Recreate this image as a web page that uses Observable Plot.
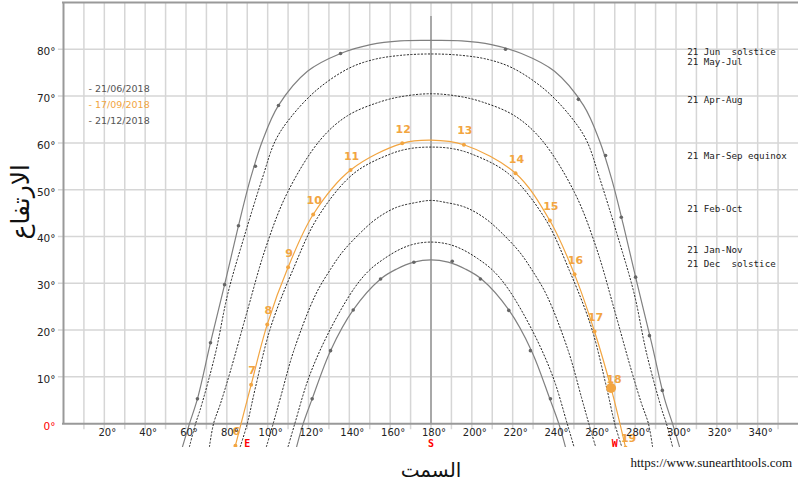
<!DOCTYPE html>
<html><head><meta charset="utf-8">
<script src="https://cdn.jsdelivr.net/npm/d3@7"></script>
<script src="https://cdn.jsdelivr.net/npm/@observablehq/plot@0.6"></script>
<style>body{margin:0;background:#fff} svg{display:block} svg text{white-space:pre}</style>
</head><body><div id="chart"></div>
<script>
// ---- data (azimuth°, altitude°) ----
const jun21 = [[58.3,-4.9],[61.7,0],[65.6,5.3],[72,17.3],[78.9,29.7],[85.7,42.3],[91.6,52.4],[97.5,60.5],[105.3,68],[119.5,75.3],[135.7,79.1],[150.4,81],[165,81.8],[180,81.9],[195,81.8],[209.6,81],[224.3,79.1],[240.5,75.3],[254.7,68],[262.5,60.5],[268.4,52.4],[274.3,42.3],[281.1,29.7],[288,17.3],[294.4,5.3],[298.3,0],[301.7,-4.9]];
const may21 = [[61.7,-4.9],[64.7,0],[67.1,3.2],[74.4,15],[80.5,27.8],[88.4,39.8],[97.5,52.6],[103.8,60.5],[111.2,65.4],[124,71.3],[139.6,75.9],[151.8,77.8],[165,78.7],[180,79],[195,78.7],[208.2,77.8],[220.4,75.9],[236,71.3],[248.8,65.4],[256.2,60.5],[262.5,52.6],[271.6,39.8],[279.5,27.8],[285.6,15],[292.9,3.2],[295.3,0],[298.3,-4.9]];
const apr21 = [[71.5,-4.9],[73.5,0],[76.9,4.3],[81.8,11.3],[90.1,24.2],[98.9,37.4],[109.7,49.4],[125.9,60.7],[139.1,65.8],[155.3,68.8],[167,70],[180,70.5],[193,70],[204.7,68.8],[220.9,65.8],[234.1,60.7],[250.3,49.4],[261.1,37.4],[269.9,24.2],[278.2,11.3],[283.1,4.3],[286.5,0],[288.5,-4.9]];
const mar21 = [[86.6,-4.9],[90,0],[94,7.7],[101.4,20.5],[112.2,32.7],[124.4,44],[142,53.4],[160,57.6],[170,58.8],[180,59.1],[190,58.8],[200,57.6],[218,53.4],[235.6,44],[247.8,32.7],[258.6,20.5],[266,7.7],[270,0],[273.4,-4.9]];
const feb21 = [[99.4,-4.9],[102.7,0],[106.3,5.6],[112.8,15.6],[123.4,27.5],[130.8,33],[136.5,36.6],[145,40.6],[153.3,43.8],[163,46.2],[173.2,47.3],[180,47.7],[186.8,47.3],[197,46.2],[206.7,43.8],[215,40.6],[223.5,36.6],[229.2,33],[236.6,27.5],[247.2,15.6],[253.7,5.6],[257.3,0],[260.6,-4.9]];
const jan21 = [[110,-4.9],[113.3,0],[120.2,9.9],[129.9,19.5],[142.2,28.8],[149.6,32.7],[156.9,35.2],[165,37.3],[172,38.4],[180,38.8],[188,38.4],[195,37.3],[203.1,35.2],[210.4,32.7],[217.8,28.8],[230.1,19.5],[239.8,9.9],[246.7,0],[250,-4.9]];
const dec21 = [[114.2,-4.9],[117.4,0],[121.8,5.3],[130.8,15.6],[141.9,24.3],[155.3,30.9],[163,33],[171.6,34.5],[180,35],[188.4,34.5],[197,33],[204.7,30.9],[218.1,24.3],[229.2,15.6],[238.2,5.3],[242.6,0],[245.8,-4.9]];
// 17/09/2018 hourly positions
const sepHours = [6,7,8,9,10,11,12,13,14,15,16,17,18,19];
const sepAz  = [84.2,91.9,99.8,110,122.3,140.6,165.9,196.1,221.4,238.2,250.3,260.1,268.2,275.3];
const sepAlt = [-4.7,8.3,21.2,33.4,44.7,54.2,59.9,59.6,53.5,43.4,31.9,19.7,7.6,-5.1];
const sepNoon = [180,60.6];
// hour dots on the solstice curves
const junDots = [[65.6,5.3],[72,17.3],[78.9,29.7],[85.7,42.3],[94,55],[105.3,68],[135.7,79.1],[216.5,80],[252.2,69.3],[265.5,57.3],[273.2,44.1],[280.2,31.3],[287,18.8],[293.3,7.1]];
const decDots = [[121.8,5.3],[130.8,15.6],[141.9,24.3],[155.3,30.9],[171.6,34.5],[190.4,34.7],[204.2,30.9],[218.1,24.2],[228.7,15.6],[238.5,5.3]];
// axes
const gridAz = [10,20,30,40,50,60,70,80,90,100,110,120,130,140,150,160,170,180,190,200,210,220,230,240,250,260,270,280,290,300,310,320,330,340,350];
const xTicks = [20,40,60,80,100,120,140,160,180,200,220,240,260,280,300,320,340];
const yTicks = [10,20,30,40,50,60,70,80];
const compassAz = [90,180,270];
const compassLabels = ["E","S","W"];
const legendLabels = ["- 21/06/2018","- 17/09/2018","- 21/12/2018"];
const seasonLabels = ["21 Jun  solstice","21 May-Jul","21 Apr-Aug","21 Mar-Sep equinox","21 Feb-Oct","21 Jan-Nov","21 Dec  solstice"];
const yTitle = "الارتفاع";
const xTitle = "السمت";
const credit = "https://www.sunearthtools.com";

// ---- build ----
const sep17 = sepHours.map((h,i)=>({h, az:sepAz[i], alt:sepAlt[i]}));
const sepLine = [...sep17.slice(0,7), {az:sepNoon[0], alt:sepNoon[1]}, ...sep17.slice(7)];
const orange = "#f2a541";
const X = d=>d[0], Y = d=>d[1];
const dotted = {x:X, y:Y, curve:"catmull-rom", stroke:"#222", strokeWidth:1, strokeDasharray:"1.3,2.2", clip:true};
const solid = {x:X, y:Y, curve:"catmull-rom", stroke:"#808080", strokeWidth:1.2, clip:true};

const seasonDy = [49.2, 59.7, 97.5, 153.5, 206.8, 248, 262];
const legendDy = [86, 102, 118];
const legendColors = ["#555", orange, "#555"];

const marks = [
  Plot.ruleX(gridAz, {x:d=>d, y1:-1.3, y2:90, stroke:"#d6d6d6", strokeWidth:1.5}),
  Plot.ruleY(yTicks, {y:d=>d, x1:-2.5, x2:360, stroke:"#d6d6d6", strokeWidth:1.5}),
  Plot.ruleX([180], {x:d=>d, y1:0, y2:87, stroke:"#a8a8a8", strokeWidth:2}),
  Plot.ruleY([0], {y:d=>d, x1:-0.5, x2:360, stroke:"#999", strokeWidth:2}),
  Plot.ruleY([90], {y:d=>d, x1:-0.5, x2:360, stroke:"#999", strokeWidth:2}),
  Plot.ruleX([0], {x:d=>d, y1:0, y2:90, stroke:"#999", strokeWidth:2}),
  Plot.line(jun21, solid),
  Plot.line(dec21, solid),
  Plot.line(may21, dotted),
  Plot.line(apr21, dotted),
  Plot.line(mar21, dotted),
  Plot.line(feb21, dotted),
  Plot.line(jan21, dotted),
  Plot.line(sepLine, {x:"az", y:"alt", curve:"catmull-rom", stroke:orange, strokeWidth:1.2, clip:true}),
  Plot.dot(junDots, {x:X, y:Y, r:1.8, fill:"#666", clip:true}),
  Plot.dot(decDots, {x:X, y:Y, r:1.8, fill:"#666", clip:true}),
  Plot.dot(sep17.filter(d=>d.h!==18), {x:"az", y:"alt", r:2, fill:orange, clip:true}),
  Plot.dot(sep17.filter(d=>d.h===18), {x:"az", y:"alt", r:5, fill:orange}),
  Plot.text(sep17.filter(d=>d.h<18), {x:"az", y:"alt", text:d=>String(d.h), dx:1, dy:-14, fill:orange, fontWeight:"bold", fontSize:11}),
  Plot.text(sep17.filter(d=>d.h>=18), {x:"az", y:"alt", text:d=>String(d.h), dx:3, dy:-9, fill:orange, fontWeight:"bold", fontSize:11}),
  // axis labels
  Plot.text(xTicks, {x:d=>d, y:0, text:d=>d+"°", dx:3, dy:9.5, fontSize:10, fill:"#222"}),
  Plot.text(yTicks, {x:0, y:d=>d, text:d=>d+"°", textAnchor:"end", dx:-8, dy:2.5, fontSize:10.5, fill:"#222"}),
  Plot.text([0], {x:0, y:d=>d, text:d=>d+"°", textAnchor:"end", dx:-8, dy:2.5, fontSize:10.5, fill:"red"}),
  Plot.text(compassLabels, {x:(d,i)=>compassAz[i], y:0, text:d=>d, dy:20, fill:"red", fontWeight:"bold", fontSize:10, fontFamily:"DejaVu Sans Mono"}),
  // titles
  Plot.text([yTitle], {frameAnchor:"left", text:d=>d, rotate:-90, dx:-43, dy:14.5, fontSize:25, fill:"#111"}),
  Plot.text([xTitle], {frameAnchor:"bottom", text:d=>d, lineAnchor:"middle", dy:23, fontSize:20, fill:"#111"}),
  Plot.text([credit], {frameAnchor:"bottom-right", text:d=>d, lineAnchor:"middle", textAnchor:"start", dx:-168, dy:15, fontSize:13, fontFamily:"Liberation Serif", fill:"#111"}),
  ...legendLabels.map((t,i)=>Plot.text([t], {frameAnchor:"top-left", text:d=>d, lineAnchor:"middle", textAnchor:"start", dx:25, dy:legendDy[i], fontSize:9.5, fill:legendColors[i]})),
  ...seasonLabels.map((t,i)=>Plot.text([t], {frameAnchor:"top-left", text:d=>d, lineAnchor:"middle", textAnchor:"start", dx:623.7, dy:seasonDy[i], fontSize:9.2, fontFamily:"DejaVu Sans Mono", fill:"#222"}))
];

const chart = Plot.plot({
  width:800, height:488,
  marginLeft:63, marginRight:2, marginTop:2, marginBottom:41,
  x:{domain:[0,360], axis:null},
  y:{domain:[-5.1,90], axis:null},
  style:{background:"#fff", fontFamily:"DejaVu Sans", overflow:"visible"},
  marks
});
document.getElementById("chart").append(chart);
</script>
</body></html>
